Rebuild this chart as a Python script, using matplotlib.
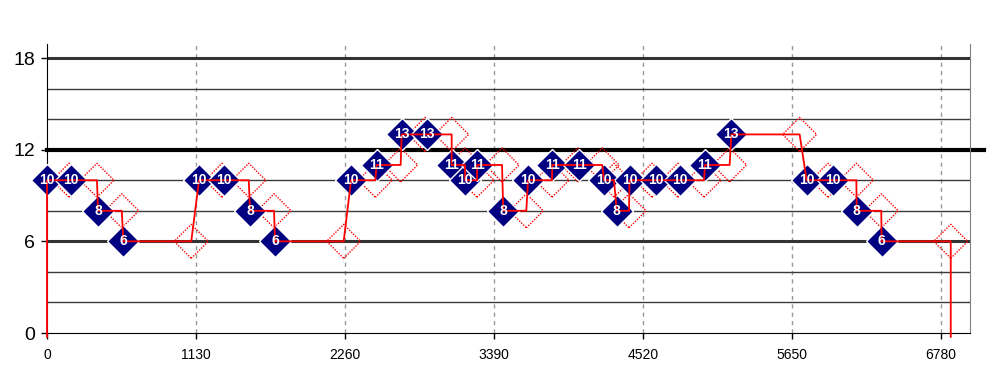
import matplotlib
matplotlib.use("Agg")
import matplotlib.pyplot as plt
import numpy as np

plt.rcParams['font.family'] = ['Liberation Sans', 'DejaVu Sans']

# ---- data ----
filled_x = [0, 182, 387, 579, 1153, 1345, 1540, 1729, 2306, 2500, 2690, 2880,
            3069, 3172, 3263, 3460, 3648, 3832, 4035, 4224, 4321, 4418, 4615,
            4801, 4990, 5190, 5761, 5959, 6141, 6330]
filled_y = [10, 10, 8, 6, 10, 10, 8, 6, 10, 11, 13, 13,
            11, 10, 11, 8, 10, 11, 11, 10, 8, 10, 10,
            10, 11, 13, 10, 10, 8, 6]
hollow_x = [167, 379, 567, 1094, 1327, 1530, 1722, 2250, 2490, 2682, 2867,
            3069, 3170, 3261, 3451, 3635, 3830, 4027, 4211, 4300, 4414, 4588,
            4785, 4983, 5177, 5708, 5923, 6138, 6327, 6854]
hollow_y = [10, 10, 8, 6, 10, 10, 8, 6, 10, 11, 13,
            13, 11, 10, 11, 8, 10, 11, 11, 10, 8, 10,
            10, 10, 11, 13, 10, 10, 8, 6]
line_floor = -0.25          # trace starts/ends just below the axis
threshold = 12
x_ticks = [0, 1130, 2260, 3390, 4520, 5650, 6780]
y_ticks = [0, 6, 12, 18]
y_grid = [2, 4, 8, 10, 14, 16]

# ---- figure ----
fig = plt.figure(figsize=(9.94, 3.68), dpi=100)
ax = fig.add_axes([47/994, 35/368, 923/994, 289/368])
ax.set_xlim(0, 7000)
ax.set_ylim(0, 18.92)

# grid
for g in y_grid:
    ax.axhline(g, color='#3a3a3a', lw=1.0, zorder=1)
for g in [6, 18]:
    ax.axhline(g, color='#333333', lw=2.2, zorder=1)
ax.axhline(threshold, xmin=0, xmax=1.0152, color='black', lw=3.0, zorder=1, clip_on=False)
for t in x_ticks[1:]:
    ax.axvline(t, color='#999999', lw=1.0, ls=(0, (3, 3)), zorder=0.5)

# red trace: filled_{i-1} -> hollow_i -> filled_i
lx = [filled_x[0]]
ly = [line_floor]
for i in range(len(filled_x)):
    if i > 0:
        lx.append(hollow_x[i-1]); ly.append(hollow_y[i-1])
    lx.append(filled_x[i]); ly.append(filled_y[i])
lx.append(hollow_x[-1]); ly.append(hollow_y[-1])
lx.append(hollow_x[-1]); ly.append(line_floor)

ax.scatter(hollow_x, hollow_y, marker='D', s=17.3**2, facecolors='none',
           edgecolors='#ff0000', linewidths=1.0, linestyles=(0, (1, 1)),
           zorder=2, clip_on=False)
ax.plot(filled_x, filled_y, ls='none', marker='D', ms=16.5, mfc='#000080',
        mec='white', mew=1.0, zorder=3, clip_on=False)
ax.plot(lx, ly, color='red', lw=1.3, zorder=4, clip_on=False)
for x, y in zip(filled_x, filled_y):
    ax.text(x, y, str(y), color='white', fontsize=10, fontweight='bold',
            ha='center', va='center', zorder=5, clip_on=False)

# axes styling
ax.spines['top'].set_visible(False)
ax.spines['right'].set_color('#808080')
ax.spines['left'].set_color('black')
ax.spines['bottom'].set_color('black')
ax.set_xticks(x_ticks)
ax.set_xticklabels([str(t) for t in x_ticks], fontsize=10)
ax.set_yticks(y_ticks)
ax.set_yticklabels([str(t) for t in y_ticks], fontsize=14)
ax.tick_params(axis='x', length=4, width=1, direction='out', pad=7)
ax.tick_params(axis='y', length=4.5, width=1, direction='out', pad=4)

fig.savefig('out.png', dpi=100)
